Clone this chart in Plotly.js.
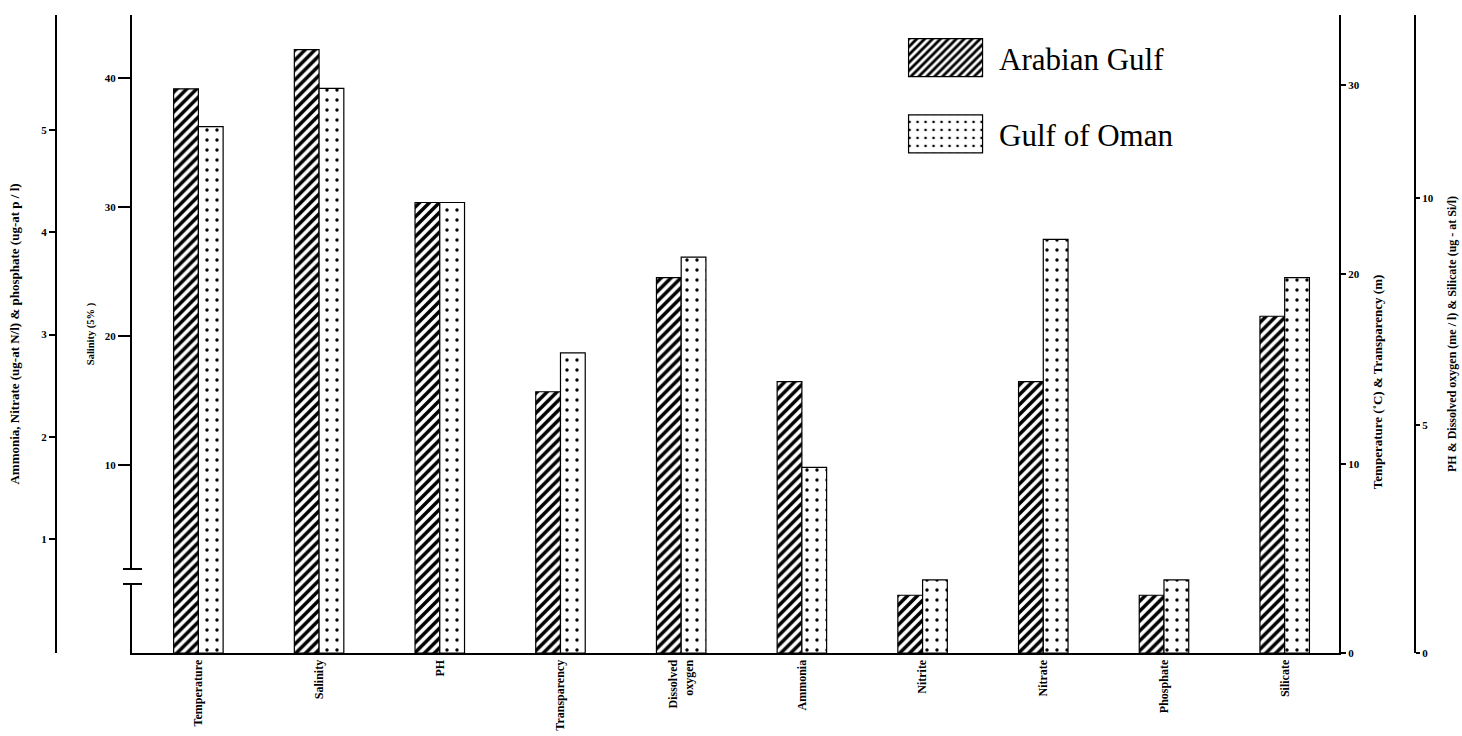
<!DOCTYPE html>
<html>
<head>
<meta charset="utf-8">
<script src="https://cdn.plot.ly/plotly-3.0.1.min.js"></script>
<style>html,body{margin:0;padding:0;background:#fff;}#chart{width:1462px;height:736px;}</style>
</head>
<body>
<div id="chart"></div>
<script>
// ---- data ----
const categories = ['Temperature', 'Salinity', 'PH', 'Transparency', 'Dissolved<br>oxygen',
                    'Ammonia', 'Nitrite', 'Nitrate', 'Phosphate', 'Silicate'];
const arabianGulf = [29.8, 42.2, 9.9, 13.8, 8.25, 2.54, 0.45, 2.54, 0.45, 7.4];
const gulfOfOman  = [27.8, 39.2, 9.9, 15.85, 8.7, 1.70, 0.60, 3.93, 0.60, 8.25];
// which value axis each parameter is read against
const axisOf = ['y3', 'y', 'y4', 'y3', 'y4', 'y2', 'y2', 'y2', 'y2', 'y4'];

const salinityTicks = [10, 20, 30, 40];
const nutrientTicks = [1, 2, 3, 4, 5];
const tempTicks = [0, 10, 20, 30];
const phTicks = [0, 5, 10];

// ---- scales ----
const ranges = {
  y:  [-4.57, 44.88],
  y2: [-0.115, 6.125],
  y3: [0, 33.7],
  y4: [0, 14.02]
};

const serif = 'Liberation Serif, Times New Roman, serif';
const barW = 0.205;

const agPattern = {shape: '/', fgcolor: '#000', bgcolor: '#fff', size: 7, solidity: 0.5};
const goPattern = {shape: '.', fgcolor: '#000', bgcolor: '#fff', size: 10, solidity: 0.09};

const traces = [];
let first = true;
['y3', 'y', 'y4', 'y2'].forEach(ax => {
  const idx = categories.map((c, i) => i).filter(i => axisOf[i] === ax);
  const base = ranges[ax][0];
  traces.push({
    type: 'bar', name: 'Arabian Gulf', legendgroup: 'ag', showlegend: first,
    x: idx.map(i => categories[i]), y: idx.map(i => arabianGulf[i] - base), base: base,
    yaxis: ax, width: barW, offset: -barW,
    marker: {color: '#fff', line: {color: '#000', width: 1.2}, pattern: agPattern}
  });
  traces.push({
    type: 'bar', name: 'Gulf of Oman', legendgroup: 'go', showlegend: first,
    x: idx.map(i => categories[i]), y: idx.map(i => gulfOfOman[i] - base), base: base,
    yaxis: ax, width: barW, offset: 0,
    marker: {color: '#fff', line: {color: '#000', width: 1.2}, pattern: goPattern}
  });
  first = false;
});

const tickFont = {family: serif, size: 11, color: '#000', weight: 'bold'};
const titleFont = {family: serif, size: 13, color: '#000', weight: 'bold'};
const axCommon = {showline: true, linecolor: '#000', linewidth: 2, showgrid: false, zeroline: false,
                  ticks: 'outside', tickcolor: '#000', tickwidth: 2, tickmode: 'array',
                  tickfont: tickFont, fixedrange: true};

// axis break on the salinity axis (decoration)
const brkLo = 0.78, brkHi = 1.94;

const layout = {
  width: 1462, height: 736,
  margin: {l: 56, r: 47, t: 15, b: 83},
  paper_bgcolor: '#fff', plot_bgcolor: 'rgba(0,0,0,0)',
  barmode: 'overlay',
  showlegend: true,
  legend: {x: 0.6152, y: 0.975, xanchor: 'left', yanchor: 'top', bgcolor: 'rgba(0,0,0,0)',
           font: {family: serif, size: 31, color: '#000'}, tracegroupgap: 33, itemwidth: 97,
           traceorder: 'grouped'},
  xaxis: {domain: [0.05592, 0.94408], range: [-0.55, 9.45], type: 'category',
          categoryorder: 'array', categoryarray: categories,
          showline: true, linecolor: '#000', linewidth: 2, ticks: '', showgrid: false,
          tickangle: -90, tickfont: {family: serif, size: 12, color: '#000', weight: 'bold'},
          fixedrange: true},
  yaxis: Object.assign({}, axCommon, {range: ranges.y, tickvals: salinityTicks, ticklen: 12,
          title: {text: 'Salinity (5% )', font: {family: serif, size: 10.5, color: '#000', weight: 'bold'}, standoff: 8}}),
  yaxis2: Object.assign({}, axCommon, {range: ranges.y2, tickvals: nutrientTicks, ticklen: 6,
          overlaying: 'y', anchor: 'free', position: 0, side: 'left',
          title: {text: 'Ammonia, Nitrate (ug-at N/l) & phosphate (ug-at p / l)', font: titleFont, standoff: 18}}),
  yaxis3: Object.assign({}, axCommon, {range: ranges.y3, tickvals: tempTicks, ticklen: 5,
          overlaying: 'y', anchor: 'x', side: 'right'}),
  yaxis4: Object.assign({}, axCommon, {range: ranges.y4, tickvals: phTicks, ticklen: 4,
          overlaying: 'y', anchor: 'free', position: 1, side: 'right',
          title: {text: 'PH & Dissolved oxygen (me / l) & Silicate (ug - at Si/l)',
                  font: {family: serif, size: 12, color: '#000', weight: 'bold'}, standoff: 14}}),
  annotations: [
    {text: 'Temperature (˚C) & Transparency (m)', xref: 'paper', yref: 'paper',
     x: 0.973, y: 0.425, textangle: -90, showarrow: false, font: titleFont,
     xanchor: 'center', yanchor: 'middle'}
  ],
  shapes: [
    {type: 'rect', xref: 'paper', yref: 'y', x0: 0.050, x1: 0.062, y0: brkLo, y1: brkHi,
     fillcolor: '#fff', line: {width: 0}, layer: 'above'},
    {type: 'line', xref: 'paper', yref: 'y', x0: 0.0493, x1: 0.0633, y0: brkLo, y1: brkLo,
     line: {color: '#000', width: 2}, layer: 'above'},
    {type: 'line', xref: 'paper', yref: 'y', x0: 0.0493, x1: 0.0633, y0: brkHi, y1: brkHi,
     line: {color: '#000', width: 2}, layer: 'above'}
  ]
};

Plotly.newPlot('chart', traces, layout, {staticPlot: true, displayModeBar: false}).then(gd => {
  // enlarge legend swatches to match the reference
  gd.querySelectorAll('.legend .legendpoints path').forEach(p => {
    p.setAttribute('d', 'M-37,-19H37V19H-37Z');
  });
});
</script>
</body>
</html>
